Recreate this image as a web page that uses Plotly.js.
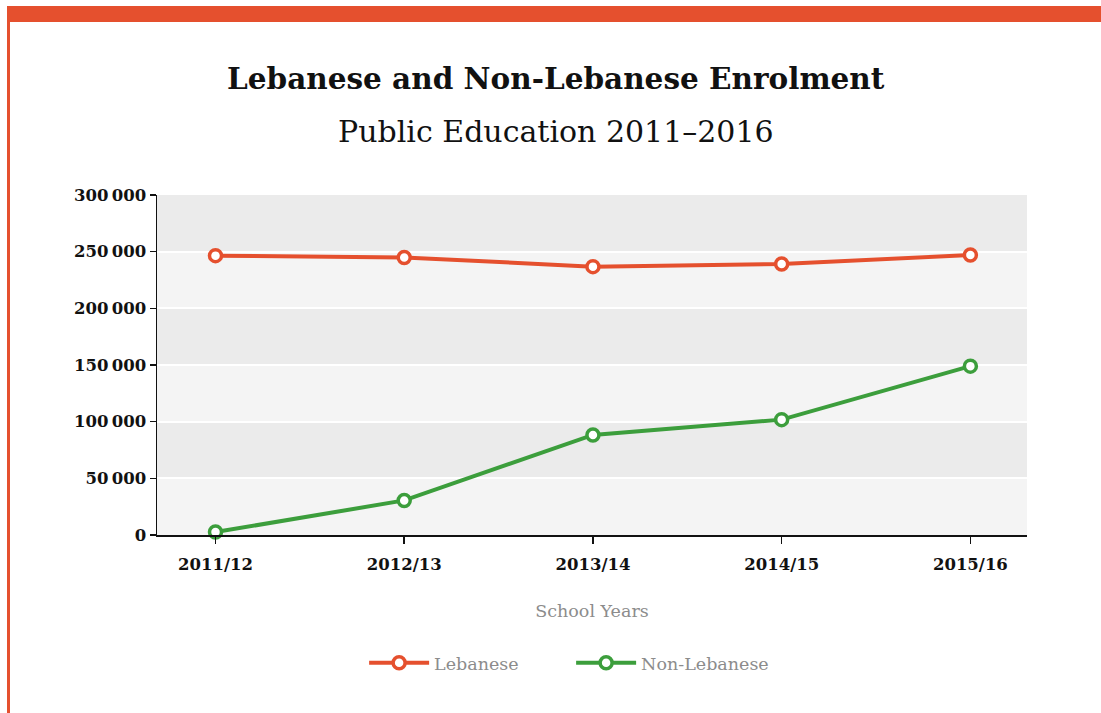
<!DOCTYPE html>
<html>
<head>
<meta charset="utf-8">
<script src="https://cdn.plot.ly/plotly-3.0.1.min.js"></script>
<style>
  html, body { margin: 0; padding: 0; background: #ffffff; }
  #frameTop { position: absolute; left: 7px; top: 6px; width: 1094px; height: 16px; background: #e5502e; }
  #frameLeft { position: absolute; left: 7px; top: 22px; width: 3px; height: 691px; background: #e5502e; }
  #chart { position: absolute; left: 0; top: 0; width: 1101px; height: 713px; }
</style>
</head>
<body>
<div id="chart"></div>
<div id="frameTop"></div>
<div id="frameLeft"></div>
<script>
const schoolYears = ["2011/12", "2012/13", "2013/14", "2014/15", "2015/16"];
const lebanese = [246500, 244900, 236800, 239200, 247000];
const nonLebanese = [2600, 30500, 88300, 101800, 149000];
const yTickValues = [0, 50000, 100000, 150000, 200000, 250000, 300000];

const orange = "#e5502e";
const green = "#3c9e3c";
const FONT = "'DejaVu Serif', 'Liberation Serif', serif";

function series(name, values, color) {
  return {
    type: "scatter",
    mode: "lines+markers",
    name: name,
    x: schoolYears,
    y: values,
    line: { color: color, width: 4 },
    marker: { size: 12, color: "#ffffff", line: { color: color, width: 3.5 } },
    cliponaxis: false
  };
}

// alternating background bands derived from the tick values
const shapes = [];
for (let i = 0; i < yTickValues.length - 1; i++) {
  shapes.push({
    type: "rect", xref: "paper", yref: "y", layer: "below",
    x0: 0, x1: 1, y0: yTickValues[i], y1: yTickValues[i + 1],
    fillcolor: i % 2 === 0 ? "#f4f4f4" : "#ebebeb",
    line: { width: 0 }
  });
}

const layout = {
  width: 1101, height: 713,
  margin: { l: 157, r: 74, t: 195, b: 178 },
  paper_bgcolor: "rgba(0,0,0,0)",
  plot_bgcolor: "#f4f4f4",
  separators: ".\u2009",
  font: { family: FONT, color: "#111111" },
  showlegend: true,
  legend: {
    orientation: "h", x: 0.476, xanchor: "center", y: -0.376, yanchor: "middle",
    font: { size: 17.5, color: "#8c8c8c", family: FONT },
    itemwidth: 60,
    entrywidth: 132
  },
  xaxis: {
    type: "category",
    range: [-0.31, 4.3],
    showline: true, linecolor: "#111111", linewidth: 1.5,
    ticks: "outside", ticklen: 7, tickcolor: "#111111", tickwidth: 1.5,
    ticklabelstandoff: 7,
    showgrid: false, zeroline: false,
    tickfont: { size: 16.5, color: "#111111", family: FONT, weight: 700 },
    title: { text: "School Years", font: { size: 17.5, color: "#8c8c8c", family: FONT }, standoff: 31 },
    fixedrange: true
  },
  yaxis: {
    range: [0, 300000],
    tickvals: yTickValues,
    tickformat: ",d",
    showline: true, linecolor: "#111111", linewidth: 1.5,
    ticks: "outside", ticklen: 6, tickcolor: "#111111", tickwidth: 1.5,
    showgrid: true, gridcolor: "#ffffff", gridwidth: 2,
    zeroline: false,
    tickfont: { size: 16.5, color: "#111111", family: FONT, weight: 700 },
    fixedrange: true
  },
  shapes: shapes,
  annotations: [
    {
      xref: "paper", yref: "paper", x: 0.4586, y: 1.344, xanchor: "center", yanchor: "middle",
      showarrow: false, text: "Lebanese and Non-Lebanese Enrolment",
      font: { size: 29.5, color: "#111111", family: FONT, weight: 700 }
    },
    {
      xref: "paper", yref: "paper", x: 0.4586, y: 1.188, xanchor: "center", yanchor: "middle",
      showarrow: false, text: "Public Education 2011–2016",
      font: { size: 30, color: "#111111", family: FONT, weight: 400 }
    }
  ]
};

Plotly.newPlot("chart", [series("Lebanese", lebanese, orange), series("Non-Lebanese", nonLebanese, green)], layout, { displayModeBar: false, staticPlot: true });
</script>
</body>
</html>
